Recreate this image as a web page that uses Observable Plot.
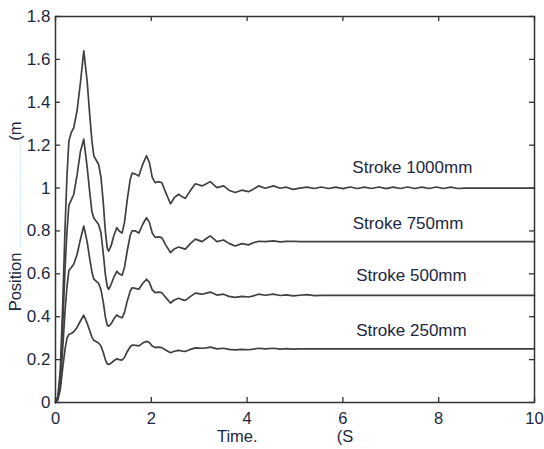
<!DOCTYPE html>
<html>
<head>
<meta charset="utf-8">
<script src="https://cdn.jsdelivr.net/npm/d3@7"></script>
<script src="https://cdn.jsdelivr.net/npm/@observablehq/plot@0.6"></script>
<style>
  html, body { margin: 0; padding: 0; background: #fff; }
  #chart { width: 544px; height: 449px; }
</style>
</head>
<body>
<div id="chart"></div>
<script>
// Shared time samples for the transient (s)
const time = [0, 0.05, 0.1, 0.15, 0.2, 0.24, 0.28, 0.33, 0.38, 0.45, 0.52, 0.59, 0.66, 0.715, 0.76, 0.8, 0.9, 0.95, 1.0, 1.04,
  1.08, 1.11, 1.16, 1.22, 1.28, 1.33, 1.39, 1.44, 1.5, 1.56, 1.6, 1.67, 1.74, 1.82, 1.9, 1.96, 2.02, 2.08, 2.15, 2.22,
  2.3, 2.4, 2.48, 2.57, 2.64, 2.71, 2.82, 2.92, 3.06, 3.15, 3.23, 3.37, 3.51, 3.62, 3.75, 3.89, 4.03, 4.13, 4.24, 4.38,
  4.55, 4.69, 4.82, 4.96, 5.1];

const p1000 = [0, 0.03, 0.15, 0.45, 0.82, 1.06, 1.22, 1.26, 1.28, 1.36, 1.49, 1.64, 1.50, 1.34, 1.22, 1.15, 1.11, 1.05, 0.925, 0.8,
  0.72, 0.706, 0.73, 0.78, 0.815, 0.8, 0.79, 0.84, 0.95, 1.04, 1.07, 1.065, 1.056, 1.11, 1.15, 1.12, 1.05, 1.025, 1.03, 1.025,
  0.98, 0.927, 0.955, 0.971, 0.96, 0.952, 0.99, 1.02, 1.01, 1.02, 1.03, 1.002, 1.01, 0.99, 0.979, 0.99, 0.983, 0.995, 1.01, 0.999,
  1.01, 0.999, 1.004, 0.994, 1.0];
const p750 = [0, 0.023, 0.115, 0.35, 0.63, 0.8, 0.92, 0.945, 0.97, 1.06, 1.17, 1.228, 1.10, 0.98, 0.89, 0.86, 0.83, 0.79, 0.69, 0.6,
  0.54, 0.528, 0.55, 0.585, 0.612, 0.6, 0.593, 0.63, 0.71, 0.78, 0.8, 0.8, 0.79, 0.83, 0.862, 0.84, 0.79, 0.77, 0.772, 0.769,
  0.735, 0.699, 0.716, 0.725, 0.72, 0.715, 0.742, 0.762, 0.75, 0.765, 0.777, 0.75, 0.758, 0.742, 0.73, 0.741, 0.735, 0.745, 0.752, 0.75,
  0.754, 0.749, 0.751, 0.752, 0.75];
const p500 = [0, 0.018, 0.09, 0.25, 0.43, 0.54, 0.615, 0.63, 0.645, 0.69, 0.76, 0.823, 0.75, 0.67, 0.61, 0.575, 0.555, 0.525, 0.465, 0.4,
  0.36, 0.356, 0.367, 0.39, 0.408, 0.4, 0.395, 0.42, 0.475, 0.52, 0.535, 0.532, 0.528, 0.555, 0.575, 0.56, 0.525, 0.512, 0.515, 0.512,
  0.49, 0.464, 0.478, 0.486, 0.48, 0.476, 0.495, 0.51, 0.505, 0.51, 0.515, 0.501, 0.505, 0.495, 0.49, 0.495, 0.492, 0.497, 0.505, 0.5,
  0.505, 0.499, 0.502, 0.497, 0.5];
const p250 = [0, 0.012, 0.06, 0.16, 0.25, 0.3, 0.318, 0.322, 0.33, 0.35, 0.38, 0.407, 0.37, 0.335, 0.305, 0.29, 0.278, 0.262, 0.232, 0.2,
  0.18, 0.177, 0.183, 0.195, 0.204, 0.2, 0.198, 0.21, 0.238, 0.26, 0.268, 0.266, 0.264, 0.277, 0.285, 0.28, 0.263, 0.256, 0.258, 0.256,
  0.245, 0.232, 0.239, 0.243, 0.24, 0.238, 0.248, 0.255, 0.253, 0.255, 0.258, 0.25, 0.253, 0.248, 0.245, 0.248, 0.246, 0.249, 0.253, 0.25,
  0.253, 0.249, 0.251, 0.249, 0.25];

// Settling tails (after 5.1 s)
const tailTime1000 = [5.25, 5.4, 5.55, 5.7, 5.85, 6.0, 6.15, 6.3, 6.45, 6.6, 6.75, 6.9, 7.05, 7.2, 7.35, 7.5, 7.65, 7.8, 7.95, 8.1, 8.25, 8.4, 8.55, 10];
const tail1000 = [1.004, 0.998, 1.005, 0.998, 1.004, 0.997, 1.005, 0.998, 1.004, 0.998, 1.005, 0.997, 1.004, 0.998, 1.005, 0.998, 1.004, 0.998, 1.005, 0.998, 1.004, 0.998, 1.0, 1.0];
const tailTime750 = [5.3, 10];
const tail750 = [0.75, 0.75];
const tailTime500 = [5.25, 5.4, 5.55, 10];
const tail500 = [0.503, 0.498, 0.5, 0.5];
const tailTime250 = [5.2, 10];
const tail250 = [0.25, 0.25];

const seriesNames = ["Stroke 1000mm", "Stroke 750mm", "Stroke 500mm", "Stroke 250mm"];
const labelX = [7.45, 7.36, 7.43, 7.43];
const labelY = [1.095, 0.834, 0.59, 0.337];

const xTicks = [0, 2, 4, 6, 8, 10];
const xTickLabels = ["0", "2", "4", "6", "8", "10"];
const yTicks = [0, 0.2, 0.4, 0.6, 0.8, 1, 1.2, 1.4, 1.6, 1.8];
const yTickLabels = ["0", "0.2", "0.4", "0.6", "0.8", "1", "1.2", "1.4", "1.6", "1.8"];

// Build table
const rows = [];
const sets = [
  [seriesNames[0], p1000, tailTime1000, tail1000],
  [seriesNames[1], p750, tailTime750, tail750],
  [seriesNames[2], p500, tailTime500, tail500],
  [seriesNames[3], p250, tailTime250, tail250]
];
for (const [name, vals, tt, tv] of sets) {
  time.forEach((t, i) => rows.push({series: name, t, v: vals[i]}));
  tt.forEach((t, i) => rows.push({series: name, t, v: tv[i]}));
}
const labels = seriesNames.map((s, i) => ({text: s, x: labelX[i], y: labelY[i]}));

const textColor = "#1e2740";
const W = 544, H = 449;
const mL = 55, mR = 10, mT = 16, mB = 47;
const frameW = W - mL - mR, frameH = H - mT - mB;
const tickLen = 5;

const chart = Plot.plot({
  width: W,
  height: H,
  marginLeft: mL,
  marginRight: mR,
  marginTop: mT,
  marginBottom: mB,
  style: {fontFamily: "'Liberation Sans', Arial, sans-serif", fontSize: "16px", color: textColor, background: "#fff"},
  x: {domain: [0, 10]},
  y: {domain: [0, 1.8]},
  marks: [
    Plot.axisX(xTicks, {tickSize: 0, tickPadding: 10, tickFormat: (d, i) => xTickLabels[i], fontSize: 16.5, fill: textColor, label: null}),
    Plot.axisY(yTicks, {tickSize: 0, tickPadding: 5, tickFormat: (d, i) => yTickLabels[i], fontSize: 17, fill: textColor, label: null}),
    // inward ticks on all four sides
    Plot.tickX(xTicks, {x: d => d, insetTop: frameH - tickLen, stroke: "#333", strokeWidth: 1.3}),
    Plot.tickX(xTicks, {x: d => d, insetBottom: frameH - tickLen, stroke: "#333", strokeWidth: 1.3}),
    Plot.tickY(yTicks, {y: d => d, insetRight: frameW - tickLen, stroke: "#333", strokeWidth: 1.3}),
    Plot.tickY(yTicks, {y: d => d, insetLeft: frameW - tickLen, stroke: "#333", strokeWidth: 1.3}),
    Plot.lineY(rows, {x: "t", y: "v", z: "series", stroke: "#404040", strokeWidth: 1.7, curve: "linear"}),
    Plot.text(labels, {x: "x", y: "y", text: "text", fontSize: 17, fill: textColor, textAnchor: "middle"}),
    // axis titles
    Plot.text(["Time."], {x: 3.37, y: 0, dy: 34, textAnchor: "start", fontSize: 16.5, fill: textColor}),
    Plot.text(["(S"], {x: 5.87, y: 0, dy: 34, textAnchor: "start", fontSize: 16.5, fill: textColor}),
    Plot.text(["Position"], {x: 0, y: 0.562, dx: -40, rotate: -90, textAnchor: "middle", fontSize: 16.5, fill: textColor}),
    Plot.text(["(m"], {x: 0, y: 1.266, dx: -40, rotate: -90, textAnchor: "middle", fontSize: 16.5, fill: textColor}),
    Plot.ruleX([0], {y1: 0.72, y2: 1.25, dx: -35, stroke: "#9fd6f2", strokeWidth: 1, strokeDasharray: "1,2"}),
    Plot.frame({stroke: "#333", strokeWidth: 1.5})
  ]
});
document.getElementById("chart").appendChild(chart);
</script>
</body>
</html>
